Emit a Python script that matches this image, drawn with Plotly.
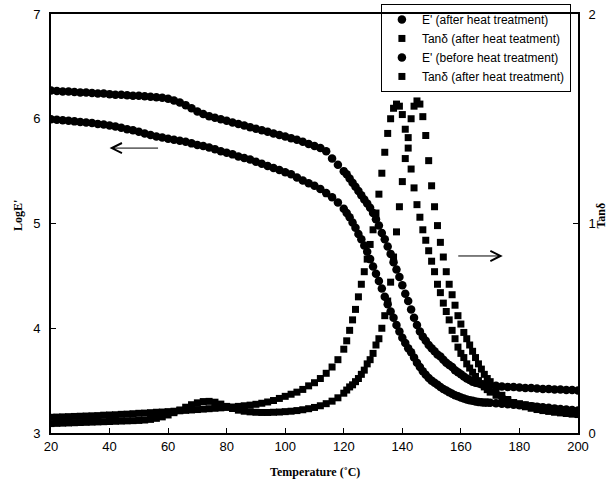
import plotly.graph_objects as go

# Temperature grid (deg C)
T = [20, 22, 24, 26, 28, 30, 32, 34, 36, 38,
     40, 42, 44, 46, 48, 50, 52, 54, 56, 58,
     60, 62, 64, 66, 68, 70, 72, 74, 76, 78,
     80, 82, 84, 86, 88, 90, 92, 94, 96, 98,
     100, 102, 104, 106, 108, 110, 112, 114, 116, 118,
     120,
     121, 122, 123, 124, 125, 126, 127, 128, 129, 130,
     131, 132, 133, 134, 135, 136, 137, 138, 139, 140,
     141, 142, 143, 144, 145, 146, 147, 148, 149, 150,
     151, 152, 153, 154, 155, 156, 157, 158, 159, 160,
     161, 162, 163, 164, 165, 166, 167, 168, 169, 170,
     172, 174, 176, 178, 180, 182, 184, 186, 188, 190,
     192, 194, 196, 198, 200]

# Log E' (upper curve)
E_after = [6.27, 6.265, 6.26, 6.26, 6.255, 6.25, 6.25, 6.245, 6.24, 6.24,
           6.235, 6.23, 6.23, 6.225, 6.22, 6.22, 6.215, 6.21, 6.205, 6.2,
           6.19, 6.175, 6.155, 6.13, 6.10, 6.07, 6.045, 6.025, 6.01, 5.995,
           5.98, 5.965, 5.95, 5.935, 5.92, 5.905, 5.89, 5.875, 5.86, 5.845,
           5.83, 5.815, 5.80, 5.78, 5.76, 5.74, 5.72, 5.69, 5.62, 5.56,
           5.50,
           5.47, 5.43, 5.39, 5.35, 5.31, 5.27, 5.23, 5.19, 5.15, 5.10,
           5.04, 4.98, 4.91, 4.85, 4.78, 4.71, 4.63, 4.56, 4.49, 4.41,
           4.33, 4.26, 4.18, 4.10, 4.03, 3.97, 3.92, 3.88, 3.84, 3.81,
           3.78, 3.75, 3.73, 3.70, 3.67, 3.65, 3.63, 3.60, 3.58, 3.56,
           3.54, 3.52, 3.505, 3.49, 3.48, 3.475, 3.465, 3.46, 3.457, 3.455,
           3.45, 3.445, 3.44, 3.44, 3.435, 3.43, 3.43, 3.425, 3.42, 3.42,
           3.415, 3.415, 3.41, 3.41, 3.405]

# Log E' (lower curve)
E_before = [5.995, 5.99, 5.985, 5.98, 5.975, 5.97, 5.965, 5.96, 5.95, 5.945,
            5.935, 5.925, 5.915, 5.90, 5.89, 5.875, 5.86, 5.845, 5.83, 5.82,
            5.81, 5.80, 5.79, 5.78, 5.765, 5.75, 5.74, 5.725, 5.71, 5.69,
            5.675, 5.66, 5.64, 5.625, 5.61, 5.59, 5.57, 5.55, 5.53, 5.51,
            5.49, 5.47, 5.44, 5.41, 5.385, 5.36, 5.33, 5.29, 5.25, 5.20,
            5.14,
            5.10, 5.06, 5.01, 4.96, 4.90, 4.85, 4.79, 4.73, 4.66, 4.59,
            4.52, 4.45, 4.38, 4.30, 4.23, 4.16, 4.10, 4.03, 3.97, 3.91,
            3.86, 3.81, 3.77, 3.72, 3.67, 3.63, 3.59, 3.555, 3.525, 3.50,
            3.48, 3.46, 3.44, 3.42, 3.405, 3.39, 3.375, 3.36, 3.35, 3.34,
            3.33, 3.32, 3.313, 3.307, 3.30, 3.297, 3.293, 3.29, 3.29, 3.288,
            3.285, 3.28, 3.275, 3.27, 3.265, 3.26, 3.255, 3.25, 3.245, 3.24,
            3.235, 3.23, 3.225, 3.22, 3.215]

# Tan delta (left peak)
Tan_A = [0.075, 0.076, 0.077, 0.078, 0.079, 0.080, 0.081, 0.082, 0.083, 0.085,
         0.086, 0.087, 0.089, 0.090, 0.092, 0.094, 0.095, 0.097, 0.099, 0.100,
         0.102, 0.104, 0.106, 0.108, 0.110, 0.112, 0.114, 0.116, 0.118, 0.120,
         0.122, 0.124, 0.127, 0.130, 0.133, 0.137, 0.142, 0.148, 0.155, 0.165,
         0.175, 0.185, 0.195, 0.208, 0.225, 0.24, 0.26, 0.285, 0.315, 0.35,
         0.40,
         0.44, 0.49, 0.54, 0.59, 0.65, 0.71, 0.77, 0.83, 0.90, 0.97,
         1.05, 1.14, 1.24, 1.34, 1.43, 1.50, 1.55, 1.57, 1.56, 1.52,
         1.45, 1.36, 1.26, 1.17, 1.09, 1.03, 0.97, 0.92, 0.87, 0.82,
         0.77, 0.71, 0.67, 0.62, 0.58, 0.54, 0.49, 0.45, 0.41, 0.38,
         0.36, 0.33, 0.31, 0.29, 0.27, 0.25, 0.235, 0.22, 0.207, 0.195,
         0.18, 0.165, 0.155, 0.145, 0.14, 0.135, 0.13, 0.125, 0.12, 0.117,
         0.114, 0.111, 0.108, 0.105, 0.102]

# Tan delta (right peak)
Tan_B = [0.045, 0.046, 0.047, 0.048, 0.049, 0.050, 0.051, 0.052, 0.053, 0.054,
         0.055, 0.056, 0.057, 0.058, 0.059, 0.060, 0.062, 0.065, 0.070, 0.077,
         0.086, 0.097, 0.110, 0.123, 0.135, 0.144, 0.150, 0.151, 0.147, 0.138,
         0.127, 0.117, 0.109, 0.104, 0.101, 0.099, 0.098, 0.098, 0.099, 0.100,
         0.102, 0.104, 0.107, 0.111, 0.116, 0.122, 0.130, 0.140, 0.152, 0.168,
         0.19,
         0.205, 0.22, 0.23, 0.245, 0.26, 0.28, 0.30, 0.33, 0.35, 0.38,
         0.42, 0.45, 0.50, 0.56, 0.63, 0.72, 0.84, 0.96, 1.08, 1.20,
         1.31, 1.41, 1.50, 1.56, 1.585, 1.57, 1.51, 1.42, 1.30, 1.18,
         1.08, 0.99, 0.91, 0.84, 0.77, 0.71, 0.66, 0.61, 0.56, 0.52,
         0.48, 0.45, 0.42, 0.39, 0.36, 0.33, 0.305, 0.28, 0.26, 0.245,
         0.21, 0.18, 0.16, 0.145, 0.135, 0.125, 0.118, 0.112, 0.107, 0.103,
         0.099, 0.096, 0.093, 0.09, 0.088]

names = ["E' (after heat treatment)", "Tanδ (after heat teatment)",
         "E' (before heat treatment)", "Tanδ (after heat treatment)"]
x_ticks = [20, 40, 60, 80, 100, 120, 140, 160, 180, 200]

fig = go.Figure()
circ = dict(symbol='circle', size=8.5, color='black', line=dict(width=0))
sq = dict(symbol='square', size=7, color='black', line=dict(width=0))
fig.add_trace(go.Scatter(x=T, y=E_after, mode='markers', marker=circ, name=names[0]))
fig.add_trace(go.Scatter(x=T, y=Tan_A, mode='markers', marker=sq, name=names[1], yaxis='y2'))
fig.add_trace(go.Scatter(x=T, y=E_before, mode='markers', marker=circ, name=names[2]))
fig.add_trace(go.Scatter(x=T, y=Tan_B, mode='markers', marker=sq, name=names[3], yaxis='y2'))

tickfont = dict(family='Liberation Sans, Arial', size=13, color='black')
axis_common = dict(showline=True, linecolor='black', linewidth=2, ticks='inside',
                   ticklen=5, tickcolor='black', showgrid=False, zeroline=False,
                   tickfont=tickfont, automargin=False)
title_font = dict(family='Liberation Serif, Times New Roman', size=12, color='black', weight='bold')

fig.update_layout(
    width=609, height=485,
    margin=dict(l=51, r=31, t=14, b=52, autoexpand=False),
    paper_bgcolor='white', plot_bgcolor='white',
    showlegend=True,
    legend=dict(x=0.626, y=1.024, xanchor='left', yanchor='top',
                bordercolor='black', borderwidth=1, bgcolor='rgba(255,255,255,0)',
                font=dict(family='Liberation Sans, Arial', size=12, color='black'),
                itemwidth=30, tracegroupgap=0),
    xaxis=dict(range=[20, 200], tickvals=x_ticks, mirror=True, **axis_common),
    yaxis=dict(range=[3, 7], dtick=1, mirror=True, ticklabelstandoff=6, **axis_common),
    yaxis2=dict(range=[0, 2], dtick=1, overlaying='y', side='right',
                ticklabelstandoff=6, **axis_common),
    annotations=[
        dict(text="LogE'", xref='paper', yref='paper', x=-0.063, y=0.52,
             xanchor='center', yanchor='middle',
             showarrow=False, textangle=-90, font=title_font),
        dict(text="Tanδ", xref='paper', yref='paper', x=1.0445, y=0.52,
             xanchor='center', yanchor='middle',
             showarrow=False, textangle=-90, font=title_font),
        dict(text="Temperature (˚C)", xref='paper', yref='paper', x=0.501, y=-0.093,
             xanchor='center', yanchor='middle',
             showarrow=False, font=title_font),
        dict(text='', x=40, y=5.72, xref='x', yref='y', ax=50, ay=0,
             showarrow=True, arrowhead=5, arrowsize=2, arrowwidth=1, arrowcolor='black'),
        dict(text='', x=174.3, y=4.69, xref='x', yref='y', ax=-46, ay=0,
             showarrow=True, arrowhead=5, arrowsize=2, arrowwidth=1, arrowcolor='black'),
    ],
)

fig.write_html("out.html")
